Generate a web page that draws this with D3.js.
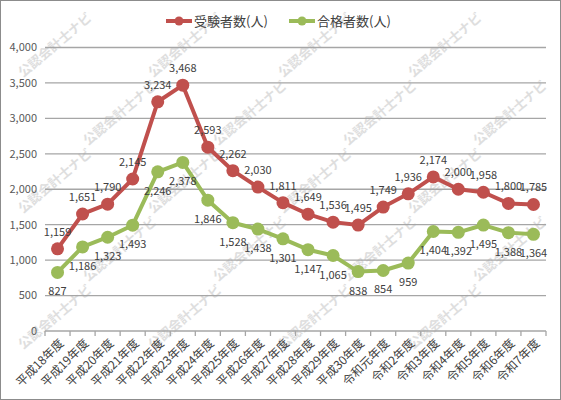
<!DOCTYPE html>
<html>
<head>
<meta charset="utf-8">
<script src="https://d3js.org/d3.v7.min.js"></script>
<style>
  body { margin: 0; background: #fff; }
  svg { display: block; font-family: "Noto Sans CJK JP", "Noto Sans", sans-serif; }
</style>
</head>
<body>
<div id="chart"></div>
<script>
// 公認会計士試験 受験者数・合格者数の推移
const years = ['平成18年度', '平成19年度', '平成20年度', '平成21年度', '平成22年度', '平成23年度',
  '平成24年度', '平成25年度', '平成26年度', '平成27年度', '平成28年度', '平成29年度', '平成30年度',
  '令和元年度', '令和2年度', '令和3年度', '令和4年度', '令和5年度', '令和6年度', '令和7年度'];
const examinees = [1159, 1651, 1790, 2145, 3234, 3468, 2593, 2262, 2030, 1811, 1649, 1536, 1495,
  1749, 1936, 2174, 2000, 1958, 1800, 1785];
const passers = [827, 1186, 1323, 1493, 2246, 2378, 1846, 1528, 1438, 1301, 1147, 1065, 838,
  854, 959, 1404, 1392, 1495, 1388, 1364];
const yTicks = [0, 500, 1000, 1500, 2000, 2500, 3000, 3500, 4000];
const seriesNames = ['受験者数(人)', '合格者数(人)'];

(function() {
  const W = 561, H = 400;
  const red = '#c0504d', green = '#9bbb59';
  const textCol = '#404040';

  const svg = d3.select('#chart').append('svg')
    .attr('width', W)
    .attr('height', H);

  svg.append('rect')
    .attr('x', 0.5).attr('y', 0.5)
    .attr('width', W - 1).attr('height', H - 1)
    .attr('fill', '#fff')
    .attr('stroke', '#8c8c8c');

  // Watermark tiles (kept inside the frame)
  const marks = [];
  for (let r = 0; r < 6; r++) {
    for (let c = 0; c < 5; c++) {
      const mx = 55 + c * 130 + (r % 2 ? 65 : 0);
      const my = 45 + r * 68;
      if (mx < 515 && my < 370) marks.push([mx, my]);
    }
  }
  svg.append('g')
    .selectAll('text')
    .data(marks)
    .join('text')
    .attr('transform', d => 'translate(' + d[0] + ',' + d[1] + ') rotate(-40)')
    .attr('text-anchor', 'middle')
    .attr('dy', '0.35em')
    .attr('font-size', 13)
    .attr('font-weight', 'bold')
    .attr('fill', '#dedede')
    .text('公認会計士ナビ');

  const x = d3.scaleBand().domain(years).range([45, 546]);
  const y = d3.scaleLinear().domain([0, 4000]).range([331, 47.5]);
  const cx = d => x(d) + x.bandwidth() / 2;

  // Gridlines
  svg.append('g')
    .selectAll('line')
    .data(yTicks)
    .join('line')
    .attr('x1', 45).attr('x2', 546)
    .attr('y1', d => y(d)).attr('y2', d => y(d))
    .attr('stroke', '#a6a6a6')
    .attr('stroke-width', 1.3);

  // Y labels
  svg.append('g')
    .selectAll('text')
    .data(yTicks)
    .join('text')
    .attr('x', 37)
    .attr('y', d => y(d))
    .attr('dy', '0.35em')
    .attr('text-anchor', 'end')
    .attr('font-size', 11)
    .attr('fill', '#595959')
    .text(d => d3.format(',')(d));

  // X axis ticks
  const xAxis = svg.append('g');
  xAxis.selectAll('line')
    .data(years.concat(['_end']))
    .join('line')
    .attr('x1', (d, i) => i < years.length ? x(d) : 546)
    .attr('x2', (d, i) => i < years.length ? x(d) : 546)
    .attr('y1', y(0)).attr('y2', y(0) + 5)
    .attr('stroke', '#a6a6a6')
    .attr('stroke-width', 1.3);

  xAxis.selectAll('text')
    .data(years)
    .join('text')
    .attr('transform', d => 'translate(' + (cx(d) + 4) + ',' + (y(0) + 10) + ') rotate(-45)')
    .attr('text-anchor', 'end')
    .attr('dy', '0.35em')
    .attr('font-size', 12)
    .attr('fill', textCol)
    .text(d => d);

  // Series
  const series = [
    { name: seriesNames[0], values: examinees, color: red, dy: -13 },
    { name: seriesNames[1], values: passers, color: green, dy: 23 }
  ];

  const line = d3.line()
    .x((d, i) => cx(years[i]))
    .y(d => y(d));

  series.forEach(s => {
    const g = svg.append('g');
    g.append('path')
      .attr('d', line(s.values))
      .attr('fill', 'none')
      .attr('stroke', s.color)
      .attr('stroke-width', 4)
      .attr('stroke-linejoin', 'round');
    g.selectAll('circle')
      .data(s.values)
      .join('circle')
      .attr('cx', (d, i) => cx(years[i]))
      .attr('cy', d => y(d))
      .attr('r', 6.5)
      .attr('fill', s.color);
    g.selectAll('text')
      .data(s.values)
      .join('text')
      .attr('x', (d, i) => cx(years[i]))
      .attr('y', d => y(d) + s.dy)
      .attr('text-anchor', 'middle')
      .attr('font-size', 11)
      .attr('fill', textCol)
      .text(d => d3.format(',')(d));
  });

  // Legend
  const legend = svg.append('g');
  const legendX = [166, 289];
  series.forEach((s, i) => {
    const lg = legend.append('g').attr('transform', 'translate(' + legendX[i] + ',21)');
    lg.append('line')
      .attr('x1', 0).attr('x2', 26)
      .attr('stroke', s.color)
      .attr('stroke-width', 4);
    lg.append('circle')
      .attr('cx', 13).attr('r', 4.5)
      .attr('fill', s.color);
    lg.append('text')
      .attr('x', 28)
      .attr('dy', '0.35em')
      .attr('font-size', 13)
      .attr('fill', textCol)
      .text(s.name);
  });
})();
</script>
</body>
</html>
